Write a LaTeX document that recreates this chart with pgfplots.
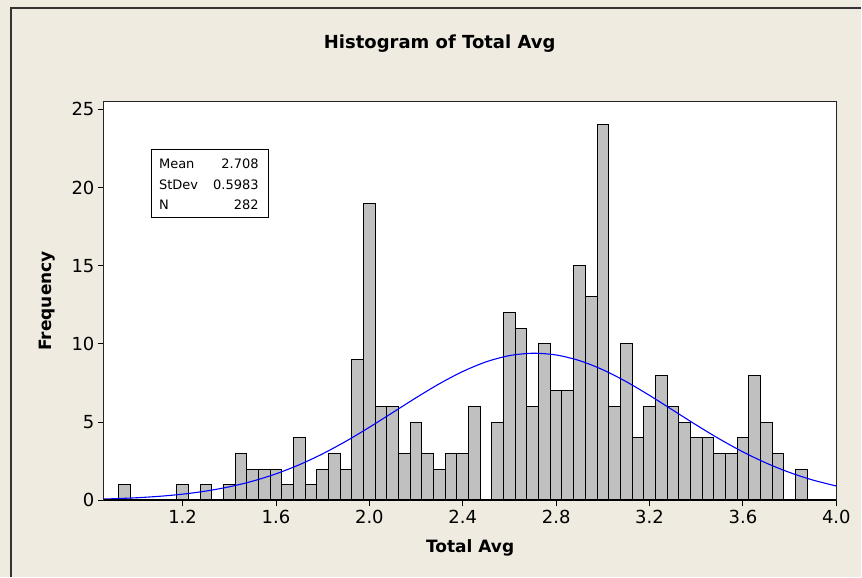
\documentclass[border=0pt]{standalone}
\usepackage{pgfplots}
\pgfplotsset{compat=1.18}
\usepackage{pgfplotstable}
\usepackage{fontspec}
\setmainfont{DejaVu Sans}

\definecolor{panel}{RGB}{239,235,224}
\definecolor{barfill}{RGB}{192,192,192}
\definecolor{fitblue}{RGB}{0,0,255}

% Frequency per bin (bin width 0.05, bins given by their midpoints)
\pgfplotstableread{
mid   freq
0.95  1
1.00  0
1.05  0
1.10  0
1.15  0
1.20  1
1.25  0
1.30  1
1.35  0
1.40  1
1.45  3
1.50  2
1.55  2
1.60  2
1.65  1
1.70  4
1.75  1
1.80  2
1.85  3
1.90  2
1.95  9
2.00  19
2.05  6
2.10  6
2.15  3
2.20  5
2.25  3
2.30  2
2.35  3
2.40  3
2.45  6
2.50  0
2.55  5
2.60  12
2.65  11
2.70  6
2.75  10
2.80  7
2.85  7
2.90  15
2.95  13
3.00  24
3.05  6
3.10  10
3.15  4
3.20  6
3.25  8
3.30  6
3.35  5
3.40  4
3.45  4
3.50  3
3.55  3
3.60  4
3.65  8
3.70  5
3.75  3
3.80  0
3.85  2
}\histdata

% Fitted normal curve (Mean 2.708, StDev 0.5983, N 282), scaled to counts
\pgfplotstableread{
x     f
0.863 0.080
0.90  0.098
1.00  0.160
1.10  0.254
1.20  0.392
1.30  0.590
1.40  0.862
1.50  1.224
1.60  1.692
1.70  2.274
1.80  2.972
1.90  3.778
2.00  4.668
2.10  5.610
2.20  6.556
2.30  7.452
2.40  8.235
2.50  8.851
2.60  9.250
2.70  9.401
2.80  9.291
2.90  8.930
3.00  8.346
3.10  7.586
3.20  6.705
3.30  5.763
3.40  4.816
3.50  3.915
3.60  3.094
3.70  2.378
3.80  1.778
3.90  1.292
4.00  0.913
}\fitdata

\begin{document}
\begin{tikzpicture}[x=1pt,y=1pt]
  % panel background and frame
  \fill[panel] (0,0) rectangle (862,577);
  \draw[line width=1.4pt, black!80] (11,0) -- (11,569) -- (862,569);

  \begin{axis}[
      at={(104pt,76.3pt)}, anchor=south west,
      scale only axis, width=733pt, height=399pt,
      xmin=0.863, xmax=4.0, ymin=0, ymax=25.49,
      axis background/.style={fill=white},
      axis line style={line width=1.1pt, black!85},
      tick pos=left, tick align=outside,
      major tick length=6pt,
      tick style={line width=0.9pt, black},
      xtick={1.2,1.6,2.0,2.4,2.8,3.2,3.6,4.0},
      ytick={0,5,10,15,20,25},
      xticklabel style={/pgf/number format/fixed, /pgf/number format/fixed zerofill, /pgf/number format/precision=1},
      /pgf/number format/assume math mode=true,
      ticklabel style={font=\fontsize{18}{20}\selectfont},
      title={Histogram of Total Avg},
      title style={font=\fontsize{18}{20}\selectfont\bfseries, at={(axis description cs:0.4584,1.1296)}, anchor=center},
      xlabel={Total Avg},
      xlabel style={font=\fontsize{17}{19}\selectfont\bfseries, at={(axis description cs:0.5,-0.1185)}, anchor=center},
      ylabel={Frequency},
      ylabel style={font=\fontsize{17}{19}\selectfont\bfseries, at={(axis description cs:-0.0778,0.5)}, anchor=center},
      clip=false,
    ]
    \addplot[ybar, bar width=0.05, bar shift=0pt, fill=barfill, draw=black, line width=1pt]
      table[x=mid, y=freq] {\histdata};
    \addplot[fitblue, line width=1.1pt, smooth] table[x=x, y=f] {\fitdata};
    \draw[line width=2pt, black] (axis cs:0.863,0) -- (axis cs:4.0,0);
  \end{axis}

  % summary statistics box
  \draw[line width=1pt, fill=white] (151.7,359) rectangle (268.3,427);
  \begin{scope}[every node/.style={font=\fontsize{13}{15}\selectfont, inner sep=0pt}]
    \node[anchor=west] at (159,413) {Mean};
    \node[anchor=east] at (259,413) {2.708};
    \node[anchor=west] at (159,392) {StDev};
    \node[anchor=east] at (259,392) {0.5983};
    \node[anchor=west] at (159,372) {N};
    \node[anchor=east] at (259,372) {282};
  \end{scope}
\end{tikzpicture}
\end{document}
